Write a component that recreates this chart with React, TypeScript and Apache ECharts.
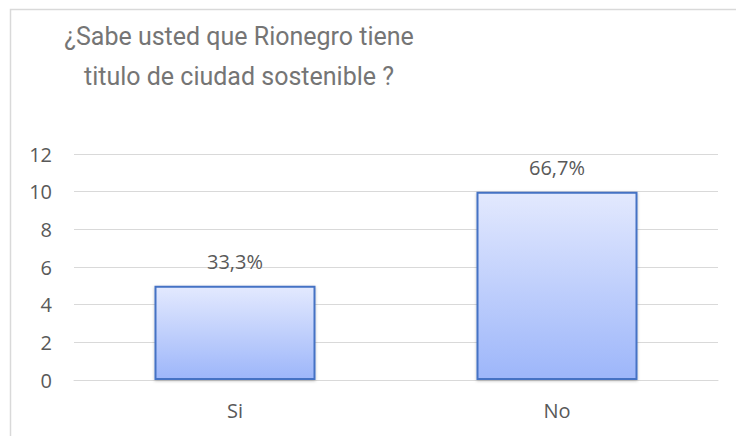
import React, { useEffect, useRef } from "react";
import * as echarts from "echarts";

const categories = ["Si", "No"];
const counts = [5, 10];
const percentLabels = ["33,3%", "66,7%"];
const titleLines = ["¿Sabe usted que Rionegro tiene", "titulo de ciudad sostenible ?"];

export default function App() {
  const ref = useRef<HTMLDivElement>(null);
  useEffect(() => {
    const chart = echarts.init(ref.current!, null, { renderer: "svg" });
    chart.setOption({
      animation: false,
      backgroundColor: "#ffffff",
      graphic: [
        {
          type: "rect",
          shape: { x: 10.5, y: 9.5, width: 740, height: 440 },
          style: { fill: "none", stroke: "#d9d9d9", lineWidth: 1.5 },
          silent: true,
        },
      ],
      title: {
        text: titleLines.join("\n"),
        left: 234,
        top: 11,
        textAlign: "center",
        textStyle: {
          fontFamily: "Roboto",
          fontSize: 25,
          fontWeight: "normal",
          color: "#757575",
          lineHeight: 40,
        },
      },
      grid: { left: 74, right: 18, top: 154, bottom: 56 },
      xAxis: {
        type: "category",
        data: categories,
        axisLine: { show: true, lineStyle: { color: "#d9d9d9", width: 1 } },
        axisTick: { show: false },
        axisLabel: { color: "#595959", fontSize: 20, fontFamily: "Open Sans", margin: 20 },
      },
      yAxis: {
        type: "value",
        min: 0,
        max: 12,
        interval: 2,
        axisLine: { show: false },
        axisTick: { show: false },
        splitLine: { lineStyle: { color: "#d9d9d9", width: 1 } },
        axisLabel: { color: "#595959", fontSize: 20, fontFamily: "Open Sans", margin: 22 },
      },
      series: [
        {
          type: "bar",
          data: counts,
          barWidth: "50%",
          itemStyle: {
            color: new echarts.graphic.LinearGradient(0, 0, 0, 1, [
              { offset: 0, color: "#e3e9fe" },
              { offset: 1, color: "#9db6fa" },
            ]),
            borderColor: "#4472c4",
            borderWidth: 2,
            shadowColor: "rgba(0,0,0,0.25)",
            shadowBlur: 3,
            shadowOffsetY: 1,
          },
          label: {
            show: true,
            position: "top",
            distance: 14,
            color: "#595959",
            fontSize: 20,
            fontFamily: "Open Sans",
            formatter: (p: any) => percentLabels[p.dataIndex],
          },
        },
      ],
    });
    return () => chart.dispose();
  }, []);
  return (
    <div
      ref={ref}
      style={{ position: "absolute", left: 0, top: 0, width: 736, height: 436 }}
    />
  );
}
